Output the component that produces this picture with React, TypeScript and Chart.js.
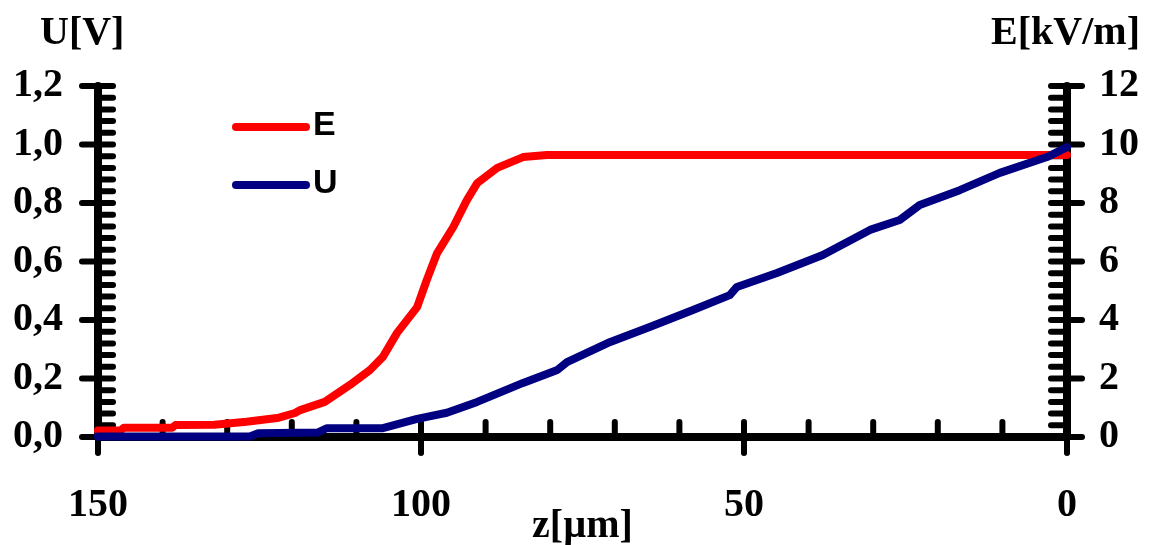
import React, { useEffect, useRef } from "react";
import { Chart, registerables } from "chart.js";

Chart.register(...registerables);

// Electric field E [kV/m] along z [µm]
const zE = [150, 146.5, 146, 138.5, 138, 132, 127, 122, 119.5, 118.7, 114.9, 111.0, 107.9, 105.9, 103.7, 100.6, 99.1, 97.5, 95.0, 92.9, 91.3, 88.2, 84.2, 80.5, 0];
const eField = [0.22, 0.22, 0.32, 0.32, 0.41, 0.42, 0.52, 0.66, 0.82, 0.92, 1.2, 1.78, 2.29, 2.74, 3.56, 4.44, 5.37, 6.29, 7.18, 8.1, 8.68, 9.2, 9.57, 9.64, 9.64];

// Potential U [V] along z [µm]
const zU = [150, 126.5, 125.2, 116, 114.6, 105.9, 100.6, 96, 91.3, 84.2, 78.9, 77.4, 70.7, 64.6, 57.9, 52.2, 51.1, 44.9, 37.8, 30.5, 25.9, 22.8, 16.6, 10.4, 3.1, 0];
const uVolt = [0.002, 0.002, 0.013, 0.015, 0.03, 0.03, 0.062, 0.083, 0.12, 0.185, 0.229, 0.256, 0.325, 0.376, 0.434, 0.485, 0.513, 0.561, 0.622, 0.708, 0.742, 0.793, 0.844, 0.903, 0.957, 0.991];

const seriesLabels = ["E", "U"];
const seriesColors = ["#ff0000", "#000080"];

const leftTitle = "U[V]";
const rightTitle = "E[kV/m]";
const bottomTitle = "z[µm]";

const SERIF = '"Liberation Serif", "Times New Roman", serif';
const SANS = '"Liberation Sans", Arial, sans-serif';

const W = 1149;
const H = 545;

function seg(ctx: CanvasRenderingContext2D, x1: number, y1: number, x2: number, y2: number) {
  ctx.beginPath();
  ctx.moveTo(x1, y1);
  ctx.lineTo(x2, y2);
  ctx.stroke();
}

// Thick axis frame with crossing major ticks and inward minor ticks
const framePlugin = {
  id: "frameTicks",
  beforeDatasetsDraw(chart: any) {
    const { ctx, chartArea: a, scales } = chart;
    const xs = scales.x;
    const yl = scales.y;
    const yr = scales.y2;
    ctx.save();
    ctx.strokeStyle = "#000";
    ctx.lineCap = "round";
    ctx.lineWidth = 8;
    seg(ctx, a.left, a.top, a.left, a.bottom);
    seg(ctx, a.right, a.top, a.right, a.bottom);
    seg(ctx, a.left, a.bottom, a.right, a.bottom);
    ctx.lineWidth = 6;
    for (let v = 0; v <= 150; v += 10) {
      const px = xs.getPixelForValue(v);
      const major = v % 50 === 0;
      seg(ctx, px, a.bottom - 15, px, major ? a.bottom + 16 : a.bottom);
    }
    for (let i = 0; i <= 30; i++) {
      const major = i % 5 === 0;
      const pl = yl.getPixelForValue(i * 0.04);
      seg(ctx, major ? a.left - 16 : a.left, pl, a.left + 15, pl);
      const pr = yr.getPixelForValue(i * 0.4);
      seg(ctx, a.right - 16, pr, major ? a.right + 15 : a.right, pr);
    }
    ctx.restore();
  },
};

// Axis titles and the inset legend
const labelPlugin = {
  id: "labelsLegend",
  afterDraw(chart: any) {
    const { ctx, chartArea: a } = chart;
    ctx.save();
    ctx.fillStyle = "#000";
    ctx.font = `bold 40px ${SERIF}`;
    ctx.textBaseline = "alphabetic";
    ctx.textAlign = "left";
    ctx.fillText(leftTitle, 40, 44);
    ctx.textAlign = "right";
    ctx.fillText(rightTitle, 1140, 44);
    ctx.textAlign = "center";
    ctx.fillText(bottomTitle, (a.left + a.right) / 2, 537);

    ctx.lineCap = "round";
    ctx.lineWidth = 8;
    ctx.font = `bold 34px ${SANS}`;
    ctx.textAlign = "left";
    ctx.textBaseline = "middle";
    chart.data.datasets.forEach((ds: any, i: number) => {
      const y = 127 + i * 58;
      ctx.strokeStyle = ds.borderColor;
      seg(ctx, 236, y, 306, y);
      ctx.fillStyle = "#000";
      ctx.fillText(ds.label, 313, y - 1);
    });
    ctx.restore();
  },
};

export default function App() {
  const canvasRef = useRef<HTMLCanvasElement | null>(null);

  useEffect(() => {
    document.body.style.margin = "0";
    const canvas = canvasRef.current;
    if (!canvas) return;

    const tickFont = { family: SERIF, size: 40, weight: "bold" as const };

    const chart = new Chart(canvas, {
      type: "line",
      data: {
        datasets: [
          {
            label: seriesLabels[0],
            data: zE.map((z, i) => ({ x: z, y: eField[i] })),
            borderColor: seriesColors[0],
            backgroundColor: seriesColors[0],
            borderWidth: 8,
            pointRadius: 0,
            tension: 0,
            borderCapStyle: "round",
            borderJoinStyle: "round",
            yAxisID: "y2",
            order: 2,
            clip: false as any,
          },
          {
            label: seriesLabels[1],
            data: zU.map((z, i) => ({ x: z, y: uVolt[i] })),
            borderColor: seriesColors[1],
            backgroundColor: seriesColors[1],
            borderWidth: 8,
            pointRadius: 0,
            tension: 0,
            borderCapStyle: "round",
            borderJoinStyle: "round",
            yAxisID: "y",
            order: 1,
            clip: false as any,
          },
        ],
      },
      options: {
        responsive: false,
        animation: false,
        layout: { padding: { top: 86, left: 0, right: 0, bottom: 0 } },
        plugins: {
          legend: { display: false },
          title: { display: false },
          tooltip: { enabled: false },
        },
        scales: {
          x: {
            type: "linear",
            reverse: true,
            min: 0,
            max: 150,
            grid: { display: false, drawTicks: false },
            border: { display: false },
            ticks: { stepSize: 50, color: "#000", font: tickFont, padding: 45, maxRotation: 0 },
            afterFit: (s: any) => {
              s.height = H - 437;
            },
          },
          y: {
            type: "linear",
            position: "left",
            min: 0,
            max: 1.2,
            grid: { display: false, drawTicks: false },
            border: { display: false },
            ticks: {
              stepSize: 0.2,
              color: "#000",
              font: tickFont,
              padding: 35,
              callback: (v: any) => Number(v).toFixed(1).replace(".", ","),
            },
            afterFit: (s: any) => {
              s.width = 98;
            },
          },
          y2: {
            type: "linear",
            position: "right",
            min: 0,
            max: 12,
            grid: { display: false, drawTicks: false },
            border: { display: false },
            ticks: { stepSize: 2, color: "#000", font: tickFont, padding: 32 },
            afterFit: (s: any) => {
              s.width = W - 1067;
            },
          },
        },
      },
      plugins: [framePlugin, labelPlugin],
    });

    return () => chart.destroy();
  }, []);

  return (
    <div style={{ width: W, height: H, background: "#fff" }}>
      <canvas ref={canvasRef} width={W} height={H} />
    </div>
  );
}
